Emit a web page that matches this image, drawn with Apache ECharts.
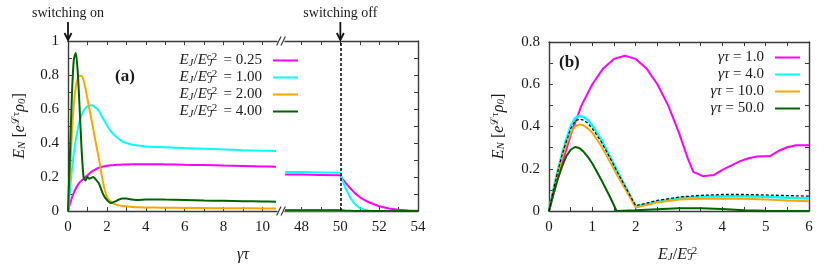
<!DOCTYPE html>
<html><head><meta charset="utf-8">
<script src="https://cdn.jsdelivr.net/npm/echarts@6/dist/echarts.min.js"></script>
<style>html,body{margin:0;padding:0;background:#fff}#c{width:831px;height:270px}</style>
</head><body><div id="c"></div>
<script>
const FONT = 'Liberation Serif';
const TXT = '#1a1a1a';
const AX = '#3a3a3a';

// ---- panel (a): first time segment (gamma*tau) ----
const tA = [0,0.1,0.2,0.3,0.4,0.5,0.6,0.7,0.8,0.9,1.0,1.1,1.2,1.3,1.4,1.5,1.6,1.8,2.0,2.2,2.4,2.6,2.8,3.0,3.3,3.6,4.0,4.5,5,6,7,8,9,10,10.7];
const a025 = [0,0.04,0.078,0.108,0.132,0.152,0.168,0.18,0.19,0.2,0.21,0.22,0.23,0.238,0.244,0.25,0.255,0.262,0.266,0.269,0.271,0.272,0.273,0.274,0.275,0.275,0.275,0.275,0.274,0.272,0.27,0.267,0.265,0.262,0.261];
const a100 = [0,0.12,0.24,0.34,0.42,0.48,0.53,0.565,0.59,0.605,0.615,0.62,0.622,0.62,0.61,0.6,0.585,0.545,0.505,0.47,0.445,0.425,0.41,0.4,0.39,0.385,0.38,0.377,0.375,0.37,0.366,0.362,0.358,0.355,0.353];
const a200 = [0,0.22,0.45,0.63,0.73,0.78,0.795,0.795,0.77,0.72,0.66,0.6,0.54,0.48,0.42,0.36,0.3,0.17,0.085,0.055,0.04,0.033,0.029,0.027,0.024,0.022,0.021,0.02,0.019,0.018,0.017,0.016,0.016,0.015,0.015];
const a400 = [0,0.33,0.68,0.89,0.93,0.82,0.6,0.36,0.2,0.18,0.2,0.19,0.195,0.2,0.19,0.175,0.16,0.1,0.065,0.047,0.055,0.066,0.073,0.073,0.067,0.064,0.068,0.068,0.067,0.065,0.062,0.06,0.058,0.056,0.055];
// ---- panel (a): second time segment ----
const tA2 = [47.15,48,49,50,50.1,50.25,50.5,50.75,51,51.25,51.5,52,52.5,53,53.5,54];
const a025b = [0.215,0.214,0.212,0.21,0.19,0.168,0.135,0.105,0.082,0.064,0.05,0.028,0.015,0.007,0.003,0.001];
const a100b = [0.23,0.229,0.227,0.225,0.185,0.14,0.08,0.04,0.018,0.007,0.002,0,0,0,0,0];
const a200b = [0.003,0.003,0.003,0.003,0.002,0.001,0,0,0,0,0,0,0,0,0,0];
const a400b = [0.004,0.004,0.004,0.004,0.003,0.002,0.001,0,0,0,0,0,0,0,0,0];
const switchOff = 50;

// ---- panel (b): E_J / E_J^c2 ----
const xB = [0,0.1,0.2,0.3,0.4,0.5,0.6,0.7,0.8,0.9,1.0,1.2,1.4,1.6,1.8,2.0,2.5,3.0,3.5,4.0,4.5,5.0,5.5,6.0];
const b4 = [0,0.1,0.19,0.27,0.34,0.4,0.44,0.45,0.445,0.43,0.405,0.34,0.26,0.18,0.1,0.022,0.045,0.062,0.068,0.07,0.07,0.067,0.063,0.059];
const b10 = [0,0.09,0.175,0.25,0.315,0.37,0.4,0.41,0.405,0.39,0.37,0.31,0.235,0.16,0.09,0.016,0.04,0.054,0.058,0.059,0.058,0.055,0.05,0.046];
const bDash = [0,0.1,0.185,0.265,0.33,0.39,0.425,0.435,0.43,0.415,0.39,0.33,0.255,0.175,0.1,0.025,0.05,0.066,0.074,0.078,0.078,0.076,0.073,0.07];
const xB50 = [0,0.1,0.2,0.3,0.4,0.5,0.6,0.7,0.8,0.9,1.0,1.2,1.4,1.56,2.0,2.5,3.0,3.5,4.0,4.5,5.0,5.5,6.0];
const b50 = [0,0.08,0.15,0.21,0.26,0.29,0.303,0.298,0.28,0.255,0.225,0.15,0.07,0,0.003,0.008,0.013,0.013,0.009,0.004,0.001,0,0];
const xB1 = [0,0.25,0.5,0.75,1,1.25,1.5,1.75,2,2.25,2.5,2.75,3,3.2,3.33,3.55,3.8,4.0,4.2,4.4,4.6,4.8,5.1,5.3,5.5,5.7,6.0];
const b1 = [0,0.19,0.36,0.5,0.6,0.675,0.72,0.735,0.72,0.675,0.6,0.5,0.37,0.25,0.185,0.165,0.17,0.195,0.215,0.235,0.25,0.258,0.26,0.285,0.302,0.311,0.311];

// ---- ticks and labels ----
const tickA1 = [0,1,2,3,4,5,6,7,8,9,10];
const lblA1 = [0,2,4,6,8,10];
const tickA2 = [48,49,50,51,52,53,54];
const lblA2 = [48,50,52,54];
const tickBx = [0,0.5,1,1.5,2,2.5,3,3.5,4,4.5,5,5.5,6];
const lblBx = [0,1,2,3,4,5,6];
const tickYA = [0,0.1,0.2,0.3,0.4,0.5,0.6,0.7,0.8,0.9,1];
const lblYA = [0,0.2,0.4,0.6,0.8,1];
const tickYB = [0,0.1,0.2,0.3,0.4,0.5,0.6,0.7,0.8];
const lblYB = [0,0.2,0.4,0.6,0.8];

const namesA = ['E_J/E_J^c2 = 0.25','E_J/E_J^c2 = 1.00','E_J/E_J^c2 = 2.00','E_J/E_J^c2 = 4.00'];
const valsA = ['0.25','1.00','2.00','4.00'];
const namesB = ['γτ = 1.0','γτ = 4.0','γτ = 10.0','γτ = 50.0'];
const valsB = ['1.0','4.0','10.0','50.0'];
const COLORS = ['#ff00ff','#00ffff','#ffa500','#006400'];

function tok(o) { return Object.assign({fontFamily: FONT, color: TXT, align: 'left'}, o); }
function richSet(main) {
  return {
    n: tok({fontSize: main, lineHeight: 17}),
    i: tok({fontSize: main, fontStyle: 'italic', lineHeight: 17}),
    sb: tok({fontSize: 11, fontStyle: 'italic', lineHeight: 9, verticalAlign: 'bottom'}),
    sp: tok({fontSize: 11, lineHeight: 7, verticalAlign: 'top'}),
    sp0: tok({fontSize: 11, lineHeight: 6, verticalAlign: 'top', width: 1}),
    sbw: tok({fontSize: 11, fontStyle: 'italic', lineHeight: 8, verticalAlign: 'bottom', width: 12}),
    nl: tok({fontSize: main, lineHeight: 17, padding: [0, 6, 0, 0]}),
    ir: tok({fontSize: main, fontStyle: 'italic', lineHeight: 17, align: 'right'}),
    nr: tok({fontSize: main, lineHeight: 17, align: 'right', padding: [0, 6, 0, 0]})
  };
}
const RICH = richSet(15);
const RICH_AX = richSet(16);
const EJ = '{i|E}{sb|J}{n|/}{i|E}{sp0|c2}{sbw|J}';
const EN = '{i|E}{sb|N}{n| [}{i|e}{sp|ℒτ}{i|ρ}{sb|0}{n|]}';

function mkX(grid, pos, min, max, ticks, labels, extra) {
  return Object.assign({
    type: 'value', gridIndex: grid, position: pos, min: min, max: max,
    axisLine: {show: true, onZero: false, lineStyle: {color: AX, width: 1.4}},
    axisTick: {show: true, inside: true, length: 4, customValues: ticks, lineStyle: {color: AX, width: 1}},
    axisLabel: labels ? {show: true, customValues: labels, margin: 9, fontFamily: FONT, fontSize: 15, color: TXT} : {show: false},
    splitLine: {show: false}
  }, extra || {});
}

function line(name, xs, ys, color, xi, yi, extra) {
  return Object.assign({
    type: 'line', name: name, xAxisIndex: xi, yAxisIndex: yi,
    data: xs.map((x, k) => [x, ys[k]]),
    symbol: 'none', lineStyle: {color: color, width: 2}, itemStyle: {color: color},
    smooth: false, z: 3
  }, extra || {});
}

const chart = echarts.init(document.getElementById('c'), null, {renderer: 'canvas'});
const option = {
  animation: false,
  backgroundColor: '#fff',
  grid: [
    {left: 68, top: 41, width: 209, height: 170},
    {left: 285, top: 41, width: 133, height: 170},
    {left: 549, top: 42, width: 260, height: 169}
  ],
  xAxis: [
    mkX(0, 'bottom', 0, 10.75, tickA1, lblA1),
    mkX(0, 'top', 0, 10.75, tickA1, null),
    mkX(1, 'bottom', 47.15, 54, tickA2, lblA2),
    mkX(1, 'top', 47.15, 54, tickA2, null),
    mkX(2, 'bottom', 0, 6, tickBx, lblBx, {
      name: EJ, nameLocation: 'middle', nameGap: 35,
      nameTextStyle: {rich: RICH_AX}
    }),
    mkX(2, 'top', 0, 6, tickBx, null)
  ],
  yAxis: [
    mkX(0, 'left', 0, 1, tickYA, lblYA, {
      name: EN, nameLocation: 'middle', nameGap: 40, nameRotate: 90,
      nameTextStyle: {rich: RICH_AX}
    }),
    mkX(1, 'right', 0, 1, tickYA, null),
    mkX(2, 'left', 0, 0.8, tickYB, lblYB, {
      name: EN, nameLocation: 'middle', nameGap: 42, nameRotate: 90,
      nameTextStyle: {rich: RICH_AX}
    }),
    mkX(2, 'right', 0, 0.8, tickYB, null)
  ],
  legend: [
    {
      data: namesA, orient: 'vertical', right: 533, top: 52, padding: 0, align: 'right',
      icon: 'rect', itemWidth: 25, itemHeight: 2, itemGap: 0, selectedMode: false,
      formatter: n => EJ + '{nl| = ' + valsA[namesA.indexOf(n)] + '}',
      textStyle: {rich: RICH, lineHeight: 17}
    },
    {
      data: namesB, orient: 'vertical', right: 31, top: 49, padding: 0, align: 'right',
      icon: 'rect', itemWidth: 25, itemHeight: 2, itemGap: 0, selectedMode: false,
      formatter: n => '{ir|γτ}{nr| = ' + valsB[namesB.indexOf(n)] + '}',
      textStyle: {width: 80, lineHeight: 17, rich: RICH}
    }
  ],
  title: [
    {text: '(a)', left: 115, top: 68, padding: 0, textStyle: {fontFamily: FONT, fontWeight: 'bold', fontSize: 17, color: TXT}},
    {text: '(b)', left: 559, top: 54, padding: 0, textStyle: {fontFamily: FONT, fontWeight: 'bold', fontSize: 17, color: TXT}}
  ],
  series: [
    line(namesA[0], tA, a025, COLORS[0], 0, 0, {smooth: 0.25}),
    line(namesA[1], tA, a100, COLORS[1], 0, 0, {smooth: 0.25}),
    line(namesA[2], tA, a200, COLORS[2], 0, 0, {smooth: 0.25}),
    line(namesA[3], tA, a400, COLORS[3], 0, 0, {smooth: 0.25}),
    line(namesA[0], tA2, a025b, COLORS[0], 2, 1, {
      markLine: {silent: true, symbol: 'none', label: {show: false},
        lineStyle: {color: '#000', type: [3, 2], width: 1.5}, data: [{xAxis: switchOff}]}
    }),
    line(namesA[1], tA2, a100b, COLORS[1], 2, 1),
    line(namesA[2], tA2, a200b, COLORS[2], 2, 1),
    line(namesA[3], tA2, a400b, COLORS[3], 2, 1),
    line(namesB[0], xB1, b1, COLORS[0], 4, 2),
    line(namesB[1], xB, b4, COLORS[1], 4, 2, {lineStyle: {color: COLORS[1], width: 2.5}}),
    line(namesB[2], xB, b10, COLORS[2], 4, 2),
    line(namesB[3], xB50, b50, COLORS[3], 4, 2),
    line('bound', xB, bDash, '#000', 4, 2, {lineStyle: {color: '#111', width: 1.3, type: [3, 2]}, z: 4})
  ]
};
chart.setOption(option);

// decorations computed from the axes
const x0 = chart.convertToPixel({xAxisIndex: 0}, 0);
const xe1 = chart.convertToPixel({xAxisIndex: 0}, 10.75);
const xs2 = chart.convertToPixel({xAxisIndex: 2}, 47.15);
const xOff = chart.convertToPixel({xAxisIndex: 2}, switchOff);
const xEnd = chart.convertToPixel({xAxisIndex: 2}, 54);
const yTop = chart.convertToPixel({yAxisIndex: 0}, 1);
const yBot = chart.convertToPixel({yAxisIndex: 0}, 0);
const xb = (xe1 + xs2) / 2;

function slashes(cx, cy) {
  return [-2.2, 2.2].map(d => ({
    type: 'line', silent: true, z: 10,
    shape: {x1: cx + d - 2.2, y1: cy + 4.5, x2: cx + d + 2.2, y2: cy - 4.5},
    style: {stroke: AX, lineWidth: 1.2}
  }));
}
function arrow(x) {
  return [
    {type: 'line', silent: true, z: 10, shape: {x1: x, y1: yTop - 19, x2: x, y2: yTop - 1}, style: {stroke: '#111', lineWidth: 1.8}},
    {type: 'polyline', silent: true, z: 10, shape: {points: [[x - 3.5, yTop - 8], [x, yTop - 1], [x + 3.5, yTop - 8]]}, style: {stroke: '#111', lineWidth: 1.8, fill: null}}
  ];
}
function label(x, y, text, italic, size) {
  return {type: 'text', silent: true, z: 10, style: {x: x, y: y, text: text, align: 'center', verticalAlign: 'middle',
    font: (italic ? 'italic ' : '') + size + 'px "' + FONT + '"', fill: TXT}};
}
const gfx = [].concat(
  slashes(xb, yTop), slashes(xb, yBot),
  arrow(x0), arrow(xOff),
  [label(x0, 13, 'switching on', false, 14), label(xOff, 13, 'switching off', false, 14),
   label((x0 + xEnd) / 2, 255, 'γτ', true, 16)]
);
chart.setOption({graphic: gfx});
</script></body></html>
